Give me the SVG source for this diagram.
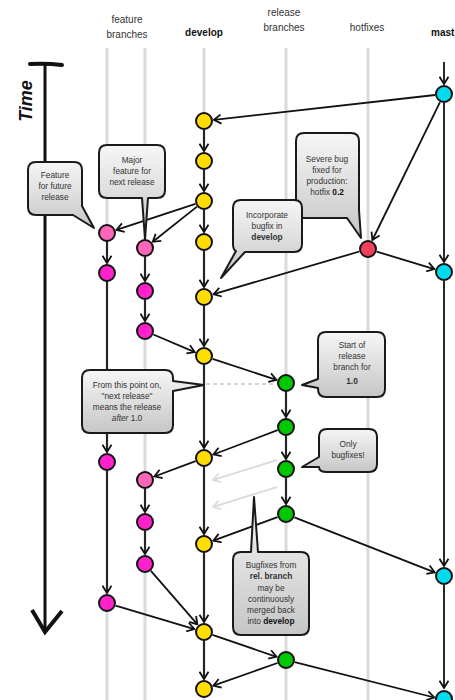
<svg xmlns="http://www.w3.org/2000/svg" width="455" height="700" viewBox="0 0 455 700">
<style>
.lbl{font-family:"Liberation Sans",Arial,sans-serif;font-size:10px;fill:#333;text-anchor:middle}
.b{font-weight:bold;fill:#111}
.ct{font-family:"Liberation Sans",Arial,sans-serif;font-size:8.3px;fill:#333;text-anchor:middle}
.lane{stroke:#dadada;stroke-width:3;fill:none}
.c{stroke:#111;stroke-width:1.8;fill:none;marker-end:url(#ah)}
.g{stroke:#dcdcdc;stroke-width:2;fill:none;marker-end:url(#ahg)}
.co{fill:url(#cg);stroke:#1a1a1a;stroke-width:2;stroke-linejoin:round}
.k{stroke:#111;stroke-width:2}
.dev{fill:#ffdd00}
.mas{fill:#00dcee}
.fe{fill:#ff22cc}
.fl{fill:#ff66bb}
.rel{fill:#00c800}
.hot{fill:#f0405a}
</style>
<defs>
<marker id="ah" viewBox="0 0 10 12" refX="9" refY="6" markerWidth="9" markerHeight="11" markerUnits="userSpaceOnUse" orient="auto">
<path d="M1,1 L9,6 L1,11" fill="none" stroke="#111" stroke-width="2"/>
</marker>
<marker id="ahg" viewBox="0 0 10 12" refX="9" refY="6" markerWidth="9" markerHeight="11" markerUnits="userSpaceOnUse" orient="auto">
<path d="M1,1 L9,6 L1,11" fill="none" stroke="#dcdcdc" stroke-width="2"/>
</marker>
<linearGradient id="cg" x1="0" y1="0" x2="0" y2="1">
<stop offset="0" stop-color="#f6f6f6"/>
<stop offset="1" stop-color="#c6c6c6"/>
</linearGradient>
</defs>
<rect width="455" height="700" fill="#fff"/>

<g id="labels">
<text class="lbl" x="127" y="23">feature</text>
<text class="lbl" x="127" y="38">branches</text>
<text class="lbl b" x="204" y="36">develop</text>
<text class="lbl" x="284" y="16">release</text>
<text class="lbl" x="284" y="31">branches</text>
<text class="lbl" x="367" y="31">hotfixes</text>
<text class="lbl b" x="431" y="36" style="text-anchor:start">mast</text>
</g>

<g id="time-axis">
<path d="M30,64 Q46,63 62,65" stroke="#111" stroke-width="4" fill="none" stroke-linecap="round"/>
<line x1="45" y1="64" x2="45" y2="630" stroke="#111" stroke-width="3"/>
<path d="M32,610 L45,632 L62,611" stroke="#111" stroke-width="4" fill="none" stroke-linejoin="miter"/>
<text transform="translate(32,101) rotate(-90)" style="font-family:'Liberation Sans',Arial,sans-serif;font-size:18px;font-weight:bold;font-style:italic;fill:#111;text-anchor:middle">Time</text>
</g>

<g id="lanes">
<line class="lane" x1="107" y1="48" x2="107" y2="700"/>
<line class="lane" x1="145" y1="48" x2="145" y2="700"/>
<line class="lane" x1="204" y1="48" x2="204" y2="700"/>
<line class="lane" x1="286" y1="48" x2="286" y2="700"/>
<line class="lane" x1="368" y1="48" x2="368" y2="700"/>
</g>

<g id="connectors">
<line x1="206" y1="384" x2="274" y2="384" stroke="#c8c8c8" stroke-width="1.5" stroke-dasharray="4 3"/>
<line class="c" x1="444" y1="62" x2="444" y2="84"/>
<line class="c" x1="444" y1="103" x2="444" y2="262"/>
<line class="c" x1="444" y1="281" x2="444" y2="566"/>
<line class="c" x1="444" y1="585" x2="444" y2="688"/>
<line class="c" x1="204" y1="130" x2="204" y2="151"/>
<line class="c" x1="204" y1="170" x2="204" y2="191"/>
<line class="c" x1="204" y1="210" x2="204" y2="232"/>
<line class="c" x1="204" y1="251" x2="204" y2="287"/>
<line class="c" x1="204" y1="306" x2="204" y2="346"/>
<line class="c" x1="204" y1="365" x2="204" y2="448"/>
<line class="c" x1="204" y1="467" x2="204" y2="534"/>
<line class="c" x1="204" y1="553" x2="204" y2="622"/>
<line class="c" x1="204" y1="641" x2="204" y2="679"/>
<line class="c" x1="107" y1="242" x2="107" y2="263"/>
<line class="c" x1="107" y1="282" x2="107" y2="452"/>
<line class="c" x1="107" y1="471" x2="107" y2="593"/>
<line class="c" x1="145" y1="257" x2="145" y2="281"/>
<line class="c" x1="145" y1="300" x2="145" y2="321"/>
<line class="c" x1="145" y1="489" x2="145" y2="512"/>
<line class="c" x1="145" y1="531" x2="145" y2="554"/>
<line class="c" x1="286" y1="392" x2="286" y2="417"/>
<line class="c" x1="286" y1="436" x2="286" y2="459"/>
<line class="c" x1="286" y1="478" x2="286" y2="504"/>
<line class="c" x1="435.1" y1="95" x2="213.9" y2="119.9"/>
<line class="c" x1="440" y1="102.1" x2="372.4" y2="240"/>
<line class="c" x1="195.4" y1="203.8" x2="116.5" y2="229.9"/>
<line class="c" x1="197" y1="206.6" x2="152.8" y2="241.8"/>
<line class="c" x1="376.6" y1="251.6" x2="434.4" y2="269.1"/>
<line class="c" x1="359.4" y1="251.5" x2="213.6" y2="294.2"/>
<line class="c" x1="153.3" y1="334.5" x2="194.8" y2="352.1"/>
<line class="c" x1="212.6" y1="358.8" x2="276.5" y2="379.9"/>
<line class="c" x1="277.6" y1="430.2" x2="213.4" y2="454.5"/>
<line class="c" x1="195.6" y1="461.1" x2="154.4" y2="476.5"/>
<line class="c" x1="277.5" y1="517.1" x2="213.4" y2="540.6"/>
<line class="c" x1="294.4" y1="517.3" x2="434.7" y2="572.3"/>
<line class="c" x1="150.9" y1="570.8" x2="197.4" y2="624.4"/>
<line class="c" x1="115.6" y1="605.6" x2="194.4" y2="629.1"/>
<line class="c" x1="212.5" y1="634.9" x2="276.5" y2="656.8"/>
<line class="c" x1="277.5" y1="663" x2="213.4" y2="685.7"/>
<line class="c" x1="294.7" y1="662.2" x2="434.3" y2="697.5"/>
<line class="g" x1="277" y1="460" x2="213" y2="480"/>
<line class="g" x1="277" y1="487" x2="213" y2="507"/>
</g>

<g id="callout-feature-future">
<path class="co" d="M36,162 H74 Q82,162 82,170 V206 L94,228 L73,215 H36 Q28,215 28,207 V170 Q28,162 36,162 Z"/>
<text class="ct" x="55" y="178">Feature</text>
<text class="ct" x="55" y="189">for future</text>
<text class="ct" x="55" y="200">release</text>
</g>
<g id="callout-major-feature">
<path class="co" d="M107,145 H157 Q165,145 165,153 V190 Q165,198 157,198 H148 L145,239 L142,198 H107 Q99,198 99,190 V153 Q99,145 107,145 Z"/>
<text class="ct" x="132" y="163">Major</text>
<text class="ct" x="132" y="174">feature for</text>
<text class="ct" x="132" y="185">next release</text>
</g>
<g id="callout-severe-bug">
<path class="co" d="M304,133 H351 Q359,133 359,141 V210 L361,238 L347,218 H304 Q296,218 296,210 V141 Q296,133 304,133 Z"/>
<text class="ct" x="327" y="162">Severe bug</text>
<text class="ct" x="327" y="173">fixed for</text>
<text class="ct" x="327" y="184">production:</text>
<text class="ct" x="327" y="195">hotfix <tspan font-weight="bold" fill="#111">0.2</tspan></text>
</g>
<g id="callout-incorporate">
<path class="co" d="M241,200 H294 Q302,200 302,208 V244 Q302,252 294,252 H245 L221,278 L236,251 Q233,250 233,244 V208 Q233,200 241,200 Z"/>
<text class="ct" x="267" y="218">Incorporate</text>
<text class="ct" x="267" y="229">bugfix in</text>
<text class="ct" x="267" y="240" font-weight="bold" fill="#111">develop</text>
</g>
<g id="callout-next-release">
<path class="co" d="M90,370 H165 Q173,370 173,378 V381 L204,385 L173,391 V425 Q173,433 165,433 H90 Q82,433 82,425 V378 Q82,370 90,370 Z"/>
<text class="ct" x="127" y="388">From this point on,</text>
<text class="ct" x="127" y="399">"next release"</text>
<text class="ct" x="127" y="410">means the release</text>
<text class="ct" x="127" y="421"><tspan font-style="italic">after</tspan> 1.0</text>
</g>
<g id="callout-start-release">
<path class="co" d="M326,332 H377 Q385,332 385,340 V389 Q385,397 377,397 H326 Q318,397 318,389 V388 L302,385 L318,379 V340 Q318,332 326,332 Z"/>
<text class="ct" x="352" y="348">Start of</text>
<text class="ct" x="352" y="359">release</text>
<text class="ct" x="352" y="370">branch for</text>
<text class="ct" x="352" y="384" font-weight="bold" font-size="10" fill="#111">1.0</text>
</g>
<g id="callout-only-bugfixes">
<path class="co" d="M327,429 H369 Q377,429 377,437 V464 Q377,472 369,472 H327 Q319,472 319,467 L302,467 L319,457 V437 Q319,429 327,429 Z"/>
<text class="ct" x="348" y="447">Only</text>
<text class="ct" x="348" y="458">bugfixes!</text>
</g>
<g id="callout-bugfixes-back">
<path class="co" d="M241,552 H251 L254,497 L258,552 H301 Q309,552 309,560 V627 Q309,635 301,635 H241 Q233,635 233,627 V560 Q233,552 241,552 Z"/>
<text class="ct" x="271" y="568">Bugfixes from</text>
<text class="ct" x="271" y="579" font-weight="bold" fill="#111">rel. branch</text>
<text class="ct" x="271" y="591">may be</text>
<text class="ct" x="271" y="602">continuously</text>
<text class="ct" x="271" y="613">merged back</text>
<text class="ct" x="271" y="624">into <tspan font-weight="bold" fill="#111">develop</tspan></text>
</g>

<g id="master-commits">
<circle id="m1" class="k mas" cx="444" cy="94" r="8"/>
<circle id="m2" class="k mas" cx="444" cy="272" r="8"/>
<circle id="m3" class="k mas" cx="444" cy="576" r="8"/>
<circle id="m4" class="k mas" cx="444" cy="699" r="8"/>
</g>
<g id="hotfix-commits">
<circle id="h1" class="k hot" cx="368" cy="249" r="8"/>
</g>
<g id="develop-commits">
<circle id="d1" class="k dev" cx="204" cy="121" r="8"/>
<circle id="d2" class="k dev" cx="204" cy="161" r="8"/>
<circle id="d3" class="k dev" cx="204" cy="201" r="8"/>
<circle id="d4" class="k dev" cx="204" cy="242" r="8"/>
<circle id="d5" class="k dev" cx="204" cy="297" r="8"/>
<circle id="d6" class="k dev" cx="204" cy="356" r="8"/>
<circle id="d7" class="k dev" cx="204" cy="458" r="8"/>
<circle id="d8" class="k dev" cx="204" cy="544" r="8"/>
<circle id="d9" class="k dev" cx="204" cy="632" r="8"/>
<circle id="d10" class="k dev" cx="204" cy="689" r="8"/>
</g>
<g id="feature1-commits">
<circle id="fa1" class="k fl" cx="107" cy="233" r="8"/>
<circle id="fa2" class="k fe" cx="107" cy="273" r="8"/>
<circle id="fa3" class="k fe" cx="107" cy="462" r="8"/>
<circle id="fa4" class="k fe" cx="107" cy="603" r="8"/>
</g>
<g id="feature2-commits">
<circle id="fb1" class="k fl" cx="145" cy="248" r="8"/>
<circle id="fb2" class="k fe" cx="145" cy="291" r="8"/>
<circle id="fb3" class="k fe" cx="145" cy="331" r="8"/>
<circle id="fb4" class="k fl" cx="145" cy="480" r="8"/>
<circle id="fb5" class="k fe" cx="145" cy="522" r="8"/>
<circle id="fb6" class="k fe" cx="145" cy="564" r="8"/>
</g>
<g id="release-commits">
<circle id="r1" class="k rel" cx="286" cy="383" r="8"/>
<circle id="r2" class="k rel" cx="286" cy="427" r="8"/>
<circle id="r3" class="k rel" cx="286" cy="469" r="8"/>
<circle id="r4" class="k rel" cx="286" cy="514" r="8"/>
<circle id="r5" class="k rel" cx="286" cy="660" r="8"/>
</g>
</svg>
